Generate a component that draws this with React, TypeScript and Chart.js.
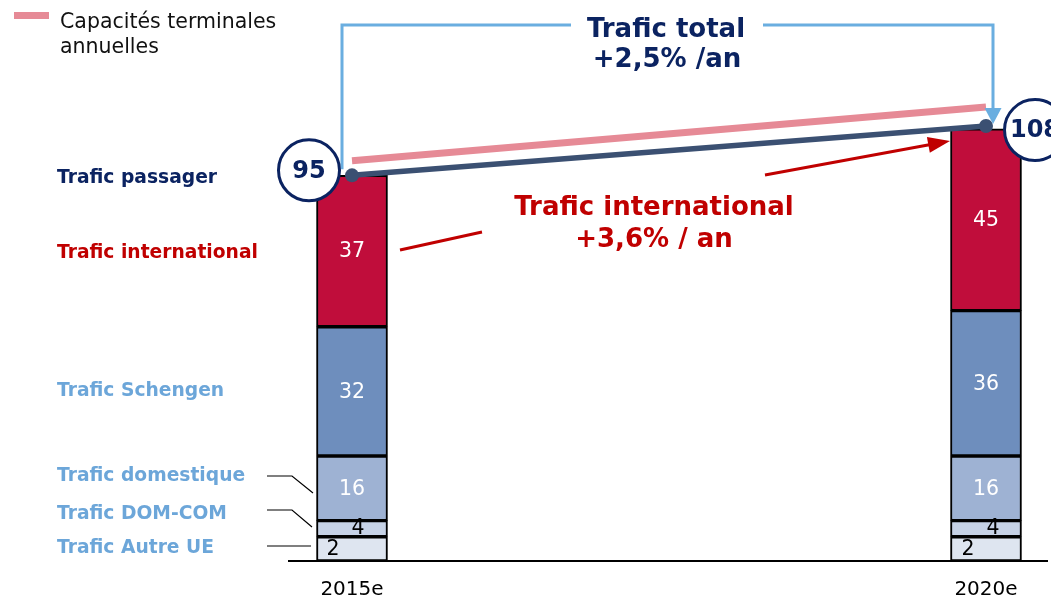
import React, { useEffect, useRef } from "react";
import { Chart, registerables } from "chart.js";

Chart.register(...registerables);

// ---- Data ----
const categories = ["2015e", "2020e"];
const autreUE = [6, 6];
const domCom = [4, 4];
const domestique = [16, 16];
const schengen = [32, 36];
const international = [37.5, 45];

const autreUELabels = ["2", "2"];
const domComLabels = ["4", "4"];
const domestiqueLabels = ["16", "16"];
const schengenLabels = ["32", "36"];
const internationalLabels = ["37", "45"];

const totalTraffic = [95.5, 107.7];
const totalLabels = ["95", "108"];
const capacity = [99.1, 112.4];

const legendLines = ["Capacités terminales", "annuelles"];
const totalNote = ["Trafic total", "+2,5% /an"];
const intlNote = ["Trafic international", "+3,6% / an"];

const seriesNames = [
  "Trafic Autre UE",
  "Trafic DOM-COM",
  "Trafic domestique",
  "Trafic Schengen",
  "Trafic international",
];

// ---- Styles ----
const FONT = "DejaVu Sans";
const NAVY = "#0B2361";
const RED = "#C00000";
const LIGHTBLUE = "#6CA6D9";
const BRACKET = "#6AAEE0";
const PINK = "#E68A96";
const LINE_NAVY = "#3B5072";
const barColors = ["#DEE5F0", "#C6D2E6", "#9EB2D3", "#6E8EBD", "#C00D3B"];
const labelColors = ["#000", "#000", "#fff", "#fff", "#fff"];
const labelDx = [[-19, -18], [6, 7], [0, 0], [0, 0], [0, 0]];
const labelDy = [0, -1, 0, 0, 0];
const BAR_OFFSET = 2; // bar datasets come after the two line datasets

function arrowHead(ctx: CanvasRenderingContext2D, fx: number, fy: number, tx: number, ty: number, len: number, half: number, color: string) {
  const a = Math.atan2(ty - fy, tx - fx);
  ctx.fillStyle = color;
  ctx.beginPath();
  ctx.moveTo(tx, ty);
  ctx.lineTo(tx - len * Math.cos(a) + half * Math.sin(a), ty - len * Math.sin(a) - half * Math.cos(a));
  ctx.lineTo(tx - len * Math.cos(a) - half * Math.sin(a), ty - len * Math.sin(a) + half * Math.cos(a));
  ctx.closePath();
  ctx.fill();
}

const overlay = {
  id: "overlay",
  afterDatasetsDraw(chart: any) {
    const ctx: CanvasRenderingContext2D = chart.ctx;
    const xs = chart.scales.x;
    const ys = chart.scales.y;
    const x0 = xs.getPixelForValue(0);
    const x1 = xs.getPixelForValue(1);
    const base = ys.getPixelForValue(0);
    ctx.save();

    // baseline
    ctx.strokeStyle = "#000";
    ctx.lineWidth = 2;
    ctx.beginPath();
    ctx.moveTo(x0 - 64, base);
    ctx.lineTo(x1 + 62, base);
    ctx.stroke();

    // bar value labels
    const labelSets = [autreUELabels, domComLabels, domestiqueLabels, schengenLabels, internationalLabels];
    ctx.font = `20.5px "${FONT}"`;
    ctx.textAlign = "center";
    ctx.textBaseline = "middle";
    for (let d = 0; d < 5; d++) {
      const meta = chart.getDatasetMeta(d + BAR_OFFSET);
      meta.data.forEach((el: any, i: number) => {
        ctx.fillStyle = labelColors[d];
        ctx.fillText(labelSets[d][i], el.x + labelDx[d][i], (el.y + el.base) / 2 + 1 + labelDy[d]);
      });
    }

    // left series labels
    const seg = (d: number) => {
      const el = chart.getDatasetMeta(d + BAR_OFFSET).data[0];
      return (el.y + el.base) / 2;
    };
    ctx.textAlign = "left";
    ctx.textBaseline = "alphabetic";
    ctx.font = `bold 18.7px "${FONT}"`;
    const topY = ys.getPixelForValue(totalTraffic[0]);
    ctx.fillStyle = NAVY;
    ctx.fillText("Trafic passager", 57, topY + 8);
    ctx.fillStyle = RED;
    ctx.fillText(seriesNames[4], 57, seg(4) + 7);
    ctx.fillStyle = LIGHTBLUE;
    ctx.fillText(seriesNames[3], 57, seg(3) + 5);
    ctx.fillText(seriesNames[2], 57, 481);
    ctx.fillText(seriesNames[1], 57, 519);
    ctx.fillText(seriesNames[0], 57, 553);

    // leader lines
    ctx.strokeStyle = "#000";
    ctx.lineWidth = 1.2;
    ctx.beginPath();
    ctx.moveTo(267, 476); ctx.lineTo(292, 476); ctx.lineTo(313, 493);
    ctx.moveTo(267, 510); ctx.lineTo(292, 510); ctx.lineTo(312, 527);
    ctx.moveTo(267, 546); ctx.lineTo(311, 546);
    ctx.stroke();

    // legend
    ctx.fillStyle = PINK;
    ctx.fillRect(14, 12, 35, 7);
    ctx.fillStyle = "#111";
    ctx.font = `20.5px "${FONT}"`;
    ctx.fillText(legendLines[0], 60, 28);
    ctx.fillText(legendLines[1], 60, 53);

    // total bracket
    const bl = x0 - 10;
    const br = x1 + 7;
    ctx.strokeStyle = BRACKET;
    ctx.lineWidth = 3;
    ctx.lineCap = "butt";
    ctx.beginPath();
    ctx.moveTo(bl, ys.getPixelForValue(totalTraffic[0]) - 6);
    ctx.lineTo(bl, 25);
    ctx.lineTo(571, 25);
    ctx.moveTo(763, 25);
    ctx.lineTo(br, 25);
    ctx.lineTo(br, 110);
    ctx.stroke();
    arrowHead(ctx, br, 25, br, 124, 16, 8.5, BRACKET);

    ctx.fillStyle = NAVY;
    ctx.font = `bold 26px "${FONT}"`;
    ctx.textAlign = "center";
    ctx.fillText(totalNote[0], 666, 37);
    ctx.fillText(totalNote[1], 667, 67);

    // international arrow
    ctx.strokeStyle = RED;
    ctx.lineWidth = 3;
    ctx.beginPath();
    ctx.moveTo(400, 250);
    ctx.lineTo(482, 232);
    ctx.moveTo(765, 175);
    ctx.lineTo(932, 144.3);
    ctx.stroke();
    arrowHead(ctx, 765, 175, 950, 141, 22, 8, RED);

    ctx.fillStyle = RED;
    ctx.fillText(intlNote[0], 654, 215);
    ctx.fillText(intlNote[1], 654, 247);

    // total circles
    const cOff = [[-43, -5], [49, 4]];
    totalTraffic.forEach((v, i) => {
      const cx = xs.getPixelForValue(i) + cOff[i][0];
      const cy = ys.getPixelForValue(v) + cOff[i][1];
      ctx.beginPath();
      ctx.arc(cx, cy, 30.5, 0, Math.PI * 2);
      ctx.fillStyle = "#fff";
      ctx.fill();
      ctx.strokeStyle = NAVY;
      ctx.lineWidth = 3;
      ctx.stroke();
      ctx.fillStyle = NAVY;
      ctx.font = `bold 24px "${FONT}"`;
      ctx.textAlign = "center";
      ctx.textBaseline = "middle";
      ctx.fillText(totalLabels[i], cx, cy + 1);
      ctx.textBaseline = "alphabetic";
    });

    ctx.restore();
  },
};

export default function App() {
  const ref = useRef<HTMLCanvasElement | null>(null);
  useEffect(() => {
    if (!ref.current) return;
    const barSeries = [autreUE, domCom, domestique, schengen, international];
    const chart = new Chart(ref.current, {
      type: "bar",
      data: {
        labels: categories,
        datasets: [
          {
            type: "line",
            label: "Capacités terminales annuelles",
            data: capacity,
            borderColor: PINK,
            borderWidth: 7,
            pointRadius: 0,
            stack: "cap",
            order: 1,
            clip: false,
          } as any,
          {
            type: "line",
            label: "Trafic passager",
            data: totalTraffic,
            borderColor: LINE_NAVY,
            borderWidth: 5.5,
            pointRadius: 7,
            pointBackgroundColor: LINE_NAVY,
            pointBorderWidth: 0,
            stack: "tot",
            order: 0,
            clip: false,
          } as any,
          ...barSeries.map((d, k) => ({
            type: "bar",
            label: seriesNames[k],
            data: d,
            backgroundColor: barColors[k],
            borderColor: "#000",
            borderWidth: 2,
            borderSkipped: false,
            barThickness: 71,
            stack: "bars",
            order: 2,
            clip: false,
          })),
        ] as any,
      },
      options: {
        responsive: false,
        animation: false,
        layout: { padding: { left: 352, right: 65, top: 36, bottom: -14 } },
        plugins: { legend: { display: false }, tooltip: { enabled: false } },
        scales: {
          x: {
            stacked: true,
            offset: false,
            grid: { display: false, drawTicks: false },
            border: { display: false },
            ticks: { font: { family: FONT, size: 20 }, color: "#000", padding: 17, maxRotation: 0, autoSkip: false },
          },
          y: { display: false, stacked: true, min: 0, max: 130 },
        },
      },
      plugins: [overlay],
    });
    return () => chart.destroy();
  }, []);
  return (
    <div style={{ position: "absolute", left: 0, top: 0, width: 1051, height: 605, background: "#fff" }}>
      <canvas ref={ref} width={1051} height={605} />
    </div>
  );
}
